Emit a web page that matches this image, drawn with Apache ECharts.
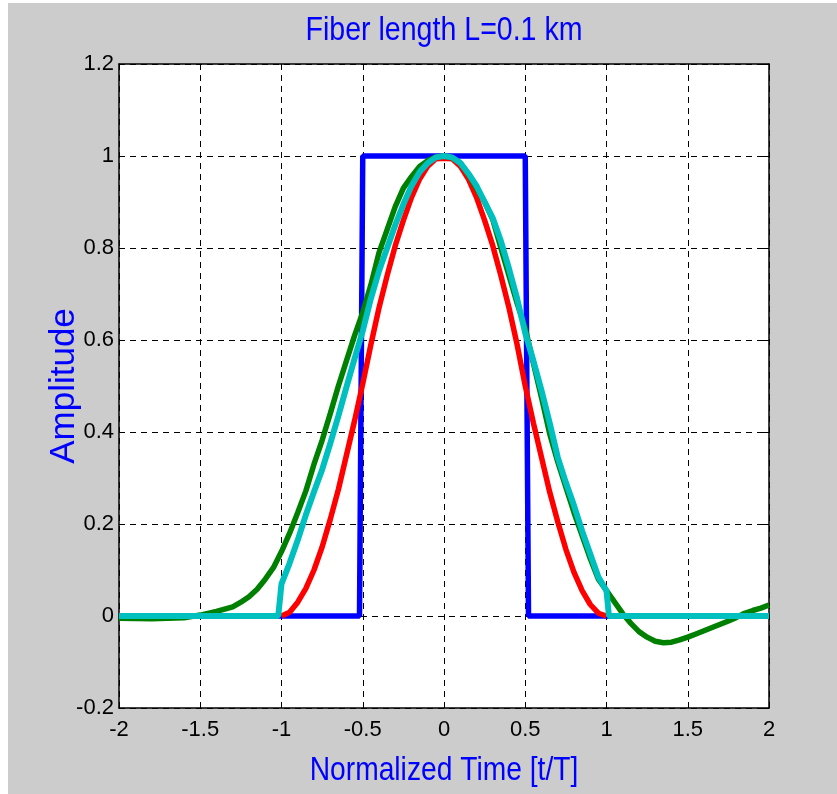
<!DOCTYPE html>
<html>
<head>
<meta charset="utf-8">
<script src="https://cdn.jsdelivr.net/npm/echarts@6/dist/echarts.min.js"></script>
<style>
html,body{margin:0;padding:0;background:#ffffff;}
#chart{position:absolute;left:8px;top:3px;width:829px;height:791px;background:#cccccc;}
</style>
</head>
<body>
<div id="chart"></div>
<script>
// ---- data ----
var titleText = 'Fiber length L=0.1 km';
var xName = 'Normalized Time [t/T]';
var yName = 'Amplitude';

// blue: input rectangular pulse
var blueT = [-2, -0.52, -0.5, 0.5, 0.52, 2];
var blueA = [0, 0, 1, 1, 0, 0];

// red
var redT = [-1, -0.95, -0.9, -0.85, -0.8, -0.75, -0.7, -0.65, -0.6, -0.55, -0.5, -0.45, -0.4, -0.35, -0.3, -0.25, -0.2, -0.15, -0.1, -0.05, 0,
            0.05, 0.1, 0.15, 0.2, 0.25, 0.3, 0.35, 0.4, 0.45, 0.5, 0.55, 0.6, 0.65, 0.7, 0.75, 0.8, 0.85, 0.9, 0.95, 1];
var redA = [0, 0.008, 0.03, 0.06, 0.1, 0.15, 0.21, 0.275, 0.35, 0.425, 0.505, 0.59, 0.67, 0.74, 0.805, 0.86, 0.91, 0.95, 0.978, 0.994, 0.995,
            0.994, 0.978, 0.95, 0.91, 0.86, 0.805, 0.74, 0.67, 0.59, 0.5, 0.42, 0.345, 0.27, 0.205, 0.145, 0.095, 0.055, 0.025, 0.006, 0];

// green
var greenT = [-2, -1.8, -1.6, -1.5, -1.4, -1.3, -1.25, -1.2, -1.15, -1.1, -1.05, -1, -0.95, -0.9, -0.85, -0.8, -0.75, -0.7, -0.65, -0.6, -0.55, -0.5, -0.45, -0.4, -0.35, -0.3, -0.25, -0.2, -0.15, -0.1, -0.05, 0,
              0.05, 0.1, 0.15, 0.2, 0.25, 0.3, 0.35, 0.4, 0.45, 0.5, 0.55, 0.6, 0.65, 0.7, 0.75, 0.8, 0.85, 0.9, 0.95, 1, 1.05, 1.1, 1.15, 1.2, 1.25, 1.3, 1.35, 1.4, 1.45, 1.5, 1.55, 1.6, 1.65, 1.7, 1.75, 1.8, 1.85, 1.9, 1.95, 2];
var greenA = [-0.005, -0.006, -0.004, 0.002, 0.01, 0.02, 0.03, 0.042, 0.058, 0.08, 0.105, 0.14, 0.18, 0.225, 0.272, 0.33, 0.382, 0.44, 0.5, 0.555, 0.61, 0.66, 0.72, 0.79, 0.84, 0.89, 0.93, 0.955, 0.977, 0.99, 0.998, 1.0,
              0.996, 0.985, 0.96, 0.93, 0.9, 0.862, 0.8, 0.74, 0.68, 0.625, 0.55, 0.475, 0.397, 0.335, 0.28, 0.225, 0.175, 0.125, 0.08, 0.055, 0.03, 0.005, -0.016, -0.034, -0.046, -0.055, -0.058, -0.057, -0.052, -0.046, -0.039, -0.032, -0.025, -0.018, -0.011, -0.003, 0.006, 0.012, 0.017, 0.024];

// cyan
var cyanT = [-2, -1.02, -1, -0.95, -0.9, -0.85, -0.8, -0.75, -0.7, -0.65, -0.6, -0.55, -0.5, -0.45, -0.4, -0.35, -0.3, -0.25, -0.2, -0.15, -0.1, -0.05, 0,
             0.05, 0.1, 0.15, 0.2, 0.25, 0.3, 0.35, 0.4, 0.45, 0.5, 0.55, 0.6, 0.65, 0.7, 0.75, 0.8, 0.85, 0.9, 0.95, 1, 1.015, 2];
var cyanA = [0, 0, 0.07, 0.115, 0.165, 0.22, 0.27, 0.318, 0.375, 0.435, 0.498, 0.56, 0.62, 0.69, 0.75, 0.8, 0.85, 0.895, 0.935, 0.965, 0.985, 0.997, 1.0,
             0.997, 0.985, 0.962, 0.935, 0.9, 0.865, 0.815, 0.755, 0.69, 0.615, 0.555, 0.49, 0.42, 0.345, 0.29, 0.24, 0.185, 0.135, 0.085, 0.055, 0, 0];

function zip(t, a) { return t.map(function (v, i) { return [v, a[i]]; }); }

var chart = echarts.init(document.getElementById('chart'), null, {renderer: 'canvas'});

var gridLine = {show: true, lineStyle: {color: '#000', width: 1, type: [6, 5]}};
var axisLineStyle = {show: true, onZero: false, lineStyle: {color: '#000', width: 1.5}};
var tickStyle = {show: true, inside: true, length: 6, lineStyle: {color: '#000', width: 1}};
var labelFont = {color: '#000', fontFamily: 'Liberation Sans, Arial, sans-serif', fontSize: 22};

function line(data, color, w) {
  return {type: 'line', data: data, showSymbol: false, symbol: 'none', animation: false,
          lineStyle: {color: color, width: w}, itemStyle: {color: color}, xAxisIndex: 0, yAxisIndex: 0};
}

chart.setOption({
  backgroundColor: '#cccccc',
  animation: false,
  graphic: [{
    type: 'text', x: 436, y: 28, scaleX: 0.84, z: 10,
    style: {text: titleText, fill: '#0000ff', fontSize: 34, fontFamily: 'Liberation Sans, Arial, sans-serif', align: 'center', verticalAlign: 'middle'}
  }, {
    type: 'text', x: 436, y: 768, scaleX: 0.83, z: 10,
    style: {text: xName, fill: '#0000ff', fontSize: 34, fontFamily: 'Liberation Sans, Arial, sans-serif', align: 'center', verticalAlign: 'middle'}
  }],
  grid: {left: 111, top: 61, width: 650, height: 644, backgroundColor: '#ffffff', show: true, borderWidth: 0},
  xAxis: [{
    type: 'value', min: -2, max: 2, interval: 0.5, position: 'bottom',
    axisLine: axisLineStyle, axisTick: tickStyle, splitLine: gridLine,
    axisLabel: Object.assign({margin: 11}, labelFont)
  }, {
    type: 'value', min: -2, max: 2, interval: 0.5, position: 'top',
    axisLine: axisLineStyle, axisTick: tickStyle, splitLine: {show: false}, axisLabel: {show: false}
  }],
  yAxis: [{
    type: 'value', min: -0.2, max: 1.2, interval: 0.2, position: 'left',
    name: yName, nameLocation: 'middle', nameGap: 37, nameRotate: 90, nameMoveOverlap: false,
    nameTextStyle: {color: '#0000ff', fontSize: 35, fontFamily: 'Liberation Sans, Arial, sans-serif'},
    axisLine: axisLineStyle, axisTick: tickStyle, splitLine: gridLine,
    axisLabel: Object.assign({margin: 5}, labelFont)
  }, {
    type: 'value', min: -0.2, max: 1.2, interval: 0.2, position: 'right',
    axisLine: axisLineStyle, axisTick: tickStyle, splitLine: {show: false}, axisLabel: {show: false}
  }],
  series: [
    line(zip(blueT, blueA), '#0000ff', 5.5),
    line(zip(redT, redA), '#ff0000', 5.5),
    line(zip(greenT, greenA), '#008000', 5.5),
    line(zip(cyanT, cyanA), '#00bfbf', 6)
  ]
});
</script>
</body>
</html>
